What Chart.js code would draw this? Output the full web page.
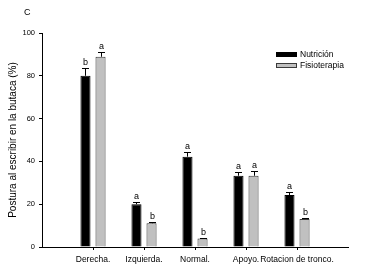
<!DOCTYPE html>
<html>
<head>
<meta charset="utf-8">
<script src="https://cdn.jsdelivr.net/npm/chart.js@4"></script>
<style>
  html, body { margin: 0; padding: 0; background: #fff; }
  canvas { display: block; }
</style>
</head>
<body>
<canvas id="chart" width="367" height="275"></canvas>
<script>
const FONT = "'Liberation Sans', Arial, sans-serif";

const CATEGORIES = ['Derecha.', 'Izquierda.', 'Normal.', 'Apoyo.', 'Rotacion de tronco.'];
const NUTRICION = [80, 20, 42.2, 33.3, 24.3];
const NUTRICION_ERR = [3.5, 0.9, 2.3, 1.6, 1.6];
const NUTRICION_LETTERS = ['b', 'a', 'a', 'a', 'a'];
const FISIOTERAPIA = [88.9, 11.1, 4, 33.3, 13.1];
const FISIOTERAPIA_ERR = [2.4, 0.5, 0.4, 2.4, 0.4];
const FISIOTERAPIA_LETTERS = ['a', 'b', 'b', 'a', 'b'];

// empty slot on each side so the groups sit one step in from the axis ends
const pad = arr => [null, ...arr, null];

const errorBars = {
    id: 'errorBars',
    afterDatasetsDraw(chart) {
        const ctx = chart.ctx;
        const y = chart.scales.y;
        chart.data.datasets.forEach((ds, di) => {
            const meta = chart.getDatasetMeta(di);
            meta.data.forEach((bar, i) => {
                const v = ds.data[i];
                if (v == null) return;
                const top = y.getPixelForValue(v + ds.err[i]);
                const x = Math.round(bar.x) + 0.5;
                ctx.save();
                ctx.strokeStyle = '#000';
                ctx.lineWidth = 1;
                ctx.beginPath();
                ctx.moveTo(x, bar.y);
                ctx.lineTo(x, Math.round(top) + 0.5);
                ctx.moveTo(x - 3.5, Math.round(top) + 0.5);
                ctx.lineTo(x + 3.5, Math.round(top) + 0.5);
                ctx.stroke();
                ctx.fillStyle = '#000';
                ctx.font = '9px ' + FONT;
                ctx.textAlign = 'center';
                ctx.textBaseline = 'alphabetic';
                ctx.fillText(ds.letters[i], x, top - 3);
                ctx.restore();
            });
        });
    }
};

const extras = {
    id: 'extras',
    afterDraw(chart) {
        const ctx = chart.ctx;
        ctx.save();
        ctx.fillStyle = '#000';
        ctx.font = '9px ' + FONT;
        ctx.textBaseline = 'middle';
        ctx.fillText('C', 24, 13);
        chart.data.datasets.forEach((ds, di) => {
            const ly = 52 + di * 11;
            ctx.fillStyle = ds.backgroundColor;
            ctx.fillRect(276, ly, 21, 5);
            ctx.strokeStyle = ds.borderColor;
            ctx.lineWidth = 1;
            ctx.strokeRect(276.5, ly + 0.5, 20, 4);
            ctx.fillStyle = '#000';
            ctx.font = '8.5px ' + FONT;
            ctx.fillText(ds.label, 300, ly + 3);
        });
        ctx.restore();
    }
};

new Chart(document.getElementById('chart'), {
    type: 'bar',
    data: {
        labels: pad(CATEGORIES).map(c => c || ''),
        datasets: [
            {
                label: 'Nutrición',
                data: pad(NUTRICION),
                err: pad(NUTRICION_ERR),
                letters: pad(NUTRICION_LETTERS),
                backgroundColor: '#000000',
                borderColor: '#000000',
                borderWidth: 1,
            },
            {
                label: 'Fisioterapia',
                data: pad(FISIOTERAPIA),
                err: pad(FISIOTERAPIA_ERR),
                letters: pad(FISIOTERAPIA_LETTERS),
                backgroundColor: '#c0c0c0',
                borderColor: '#3a3a3a',
                borderWidth: 1,
            },
        ]
    },
    options: {
        responsive: false,
        animation: false,
        devicePixelRatio: 1,
        layout: { padding: { top: 33, right: 19, left: 0, bottom: 0 } },
        datasets: {
            bar: { categoryPercentage: 0.59, barPercentage: 0.67 }
        },
        scales: {
            x: {
                offset: false,
                afterFit: s => { s.height = 28; },
                grid: {
                    offset: false,
                    drawOnChartArea: false,
                    tickLength: 3,
                    tickColor: c => (c.index === 0 || c.index === 6) ? 'rgba(0,0,0,0)' : '#000',
                },
                border: { color: '#000', width: 1 },
                ticks: {
                    autoSkip: false,
                    maxRotation: 0,
                    padding: 5,
                    color: '#000',
                    font: { family: FONT, size: 8.5 },
                },
            },
            y: {
                min: 0,
                max: 100,
                afterFit: s => { s.width = 42; },
                grid: { drawOnChartArea: false, tickLength: 3, tickColor: '#000' },
                border: { color: '#000', width: 1 },
                ticks: {
                    stepSize: 20,
                    padding: 4,
                    color: '#000',
                    font: { family: FONT, size: 7.5 },
                },
                title: {
                    display: true,
                    text: 'Postura al escribir en la butaca (%)',
                    color: '#000',
                    padding: { top: 7, bottom: 0 },
                    font: { family: FONT, size: 10 },
                },
            },
        },
        plugins: {
            legend: { display: false },
            tooltip: { enabled: false },
        }
    },
    plugins: [errorBars, extras]
});
</script>
</body>
</html>
